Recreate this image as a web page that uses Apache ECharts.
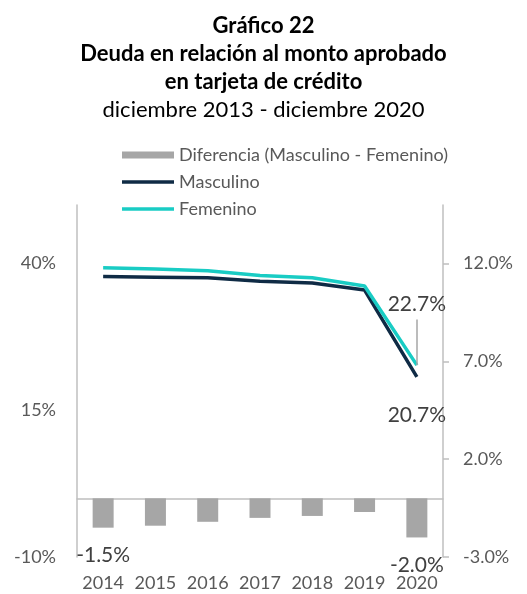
<!DOCTYPE html>
<html>
<head>
<meta charset="utf-8">
<script src="https://cdn.jsdelivr.net/npm/echarts@6/dist/echarts.min.js"></script>
<style>
html,body{margin:0;padding:0;background:#fff;}
#chart{width:527px;height:594px;}
</style>
</head>
<body>
<div id="chart"></div>
<script>
const categories = ['2014','2015','2016','2017','2018','2019','2020'];
const masculino = [37.8, 37.7, 37.6, 37.0, 36.7, 35.5, 20.7];
const femenino = [39.3, 39.1, 38.8, 38.0, 37.6, 36.2, 22.7];
const diferencia = [-1.5, -1.4, -1.2, -1.0, -0.9, -0.7, -2.0];
const leftTicks = [-10, 15, 40];
const rightTicks = [-3, 2, 7, 12];
const leaderTop = 30.5; // top end of the leader line of the 22.7% label (left-axis units)

const FONT = 'Lato';
const axisColor = '#BFBFBF';
const labelColor = '#595959';
const last = categories.length - 1;
const legendText = { fontFamily: FONT, fontSize: 18, color: labelColor, lineHeight: 20 };

const chart = echarts.init(document.getElementById('chart'));
chart.setOption({
  animation: false,
  textStyle: { fontFamily: FONT },
  title: {
    left: 'center',
    top: 7,
    text: 'Gráfico 22\nDeuda en relación al monto aprobado\nen tarjeta de crédito',
    textStyle: { fontFamily: FONT, fontSize: 22, fontWeight: 'bold', color: '#000', lineHeight: 28 },
    subtext: 'diciembre 2013 - diciembre 2020',
    subtextStyle: { fontFamily: FONT, fontSize: 22, color: '#000', lineHeight: 28 },
    itemGap: 0
  },
  legend: [
    {
      orient: 'vertical',
      left: 122,
      top: 145,
      padding: 0,
      itemWidth: 52,
      itemHeight: 7,
      textStyle: legendText,
      data: [{ name: 'Diferencia (Masculino - Femenino)', icon: 'rect' }]
    },
    {
      orient: 'vertical',
      left: 122,
      top: 172,
      padding: 0,
      itemWidth: 52,
      itemHeight: 3.5,
      itemGap: 7,
      textStyle: legendText,
      data: [{ name: 'Masculino', icon: 'rect' }, { name: 'Femenino', icon: 'rect' }]
    }
  ],
  grid: { left: 77, right: 84, top: 205, bottom: 37 },
  xAxis: [
    {
      type: 'category',
      data: categories,
      axisLine: { onZero: true, onZeroAxisIndex: 1, lineStyle: { color: axisColor, width: 1.5 } },
      axisTick: { show: false },
      axisLabel: { show: false }
    },
    {
      type: 'category',
      data: categories,
      position: 'bottom',
      axisLine: { show: false, onZero: false },
      axisTick: { show: false },
      axisLabel: { interval: 0, fontFamily: FONT, fontSize: 18, color: labelColor, margin: 17 }
    }
  ],
  yAxis: [
    {
      type: 'value',
      min: -10, max: 50,
      splitLine: { show: false },
      axisLine: { show: true, lineStyle: { color: axisColor, width: 1.5 } },
      axisTick: { show: false },
      axisLabel: {
        customValues: leftTicks,
        fontFamily: FONT, fontSize: 18, color: labelColor, margin: 21,
        formatter: v => v + '%'
      }
    },
    {
      type: 'value',
      min: -3, max: 15,
      position: 'right',
      splitLine: { show: false },
      axisLine: { show: true, lineStyle: { color: axisColor, width: 1.5 } },
      axisTick: { show: true, customValues: rightTicks, length: 6, lineStyle: { color: axisColor, width: 1.5 } },
      axisLabel: {
        customValues: rightTicks,
        fontFamily: FONT, fontSize: 18, color: labelColor, margin: 20,
        formatter: v => v.toFixed(1) + '%'
      }
    }
  ],
  series: [
    {
      name: 'Diferencia (Masculino - Femenino)',
      type: 'bar',
      yAxisIndex: 1,
      barWidth: 21,
      itemStyle: { color: '#A6A6A6' },
      data: diferencia.map((v, i) => (i === 0 || i === last) ? {
        value: v,
        label: {
          show: true, position: 'bottom', distance: 17,
          fontFamily: FONT, fontSize: 21, color: '#404040',
          formatter: p => p.value.toFixed(1) + '%'
        }
      } : v)
    },
    {
      name: 'Masculino',
      type: 'line',
      yAxisIndex: 0,
      symbol: 'circle',
      symbolSize: 0,
      showSymbol: true,
      lineStyle: { color: '#0F2B45', width: 3.5 },
      itemStyle: { color: '#0F2B45' },
      z: 3,
      data: masculino.map((v, i) => i === last ? {
        value: v,
        label: {
          show: true, position: 'bottom', distance: 28,
          fontFamily: FONT, fontSize: 21, color: '#404040',
          formatter: p => p.value.toFixed(1) + '%'
        }
      } : v)
    },
    {
      name: 'Femenino',
      type: 'line',
      yAxisIndex: 0,
      symbol: 'circle',
      symbolSize: 0,
      showSymbol: true,
      lineStyle: { color: '#19CCC4', width: 3.5 },
      itemStyle: { color: '#19CCC4' },
      z: 4,
      markLine: {
        silent: true,
        symbol: 'none',
        label: { show: false },
        lineStyle: { color: '#A6A6A6', width: 1.5, type: 'solid' },
        data: [[
          { coord: [categories[last], femenino[last]] },
          { coord: [categories[last], leaderTop] }
        ]]
      },
      data: femenino.map((v, i) => i === last ? {
        value: v,
        label: {
          show: true, position: 'top', distance: 50,
          fontFamily: FONT, fontSize: 21, color: '#404040',
          formatter: p => p.value.toFixed(1) + '%'
        }
      } : v)
    }
  ]
});
</script>
</body>
</html>
